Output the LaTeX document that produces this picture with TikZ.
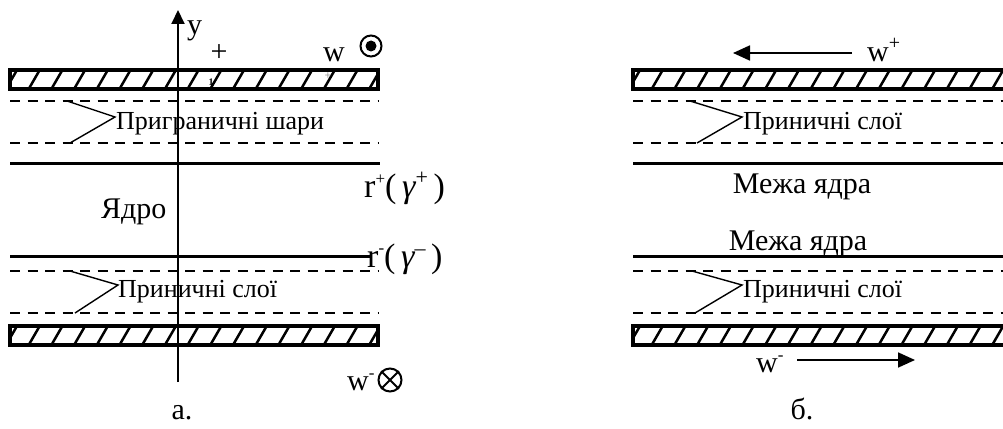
\documentclass[tikz,border=0pt]{standalone}
\usepackage{fontspec}
\setmainfont{Liberation Serif}
\usetikzlibrary{arrows.meta}
\newcommand{\hatchedbar}[3]{%
  \begin{scope}
    \clip (#1,#3) rectangle (#2,#3+19);
    \foreach \k in {0,...,20} {\draw[hatchline] ({#1-4+\k*22.7},#3+19) -- ++(11,-19);}
  \end{scope}
  \draw[barframe] (#1,#3) rectangle (#2,#3+19);
}
\begin{document}
\begin{tikzpicture}[x=1pt,y=-1pt,
  barframe/.style={line width=3.5pt},
  hatchline/.style={line width=2.5pt},
  dashline/.style={line width=2.2pt, dash pattern=on 10pt off 7.5pt},
  solidline/.style={line width=3pt},
  leader/.style={line width=1.4pt},
  big/.style={font=\fontsize{30}{34}\selectfont, inner sep=0pt},
  rlab/.style={font=\fontsize{34}{38}\selectfont, inner sep=0pt},
  small/.style={font=\fontsize{26}{30}\selectfont, inner sep=0pt},
  tiny/.style={font=\fontsize{12}{14}\selectfont, inner sep=0pt},
  symb/.style={circle, draw, line width=2pt, minimum size=21pt, inner sep=0pt},
  arr/.style={line width=1.8pt, -{Triangle[length=17pt,width=15pt]}},
]
\useasboundingbox (0,0) rectangle (1003,428);
\clip (0,0) rectangle (1003,428);

% ---------- panel a ----------
\hatchedbar{10}{378}{70}
\hatchedbar{10}{378}{326}
\draw[dashline] (10,101) -- (378,101);
\draw[dashline] (10,143) -- (378,143);
\draw[dashline] (10,271) -- (378,271);
\draw[dashline] (10,313) -- (378,313);
\draw[solidline] (10,163) -- (380,163);
\draw[solidline] (10,256) -- (372,256);

\coordinate (axb) at (178,382);
\coordinate (axt) at (178,10);
\draw[line width=2pt, -{Triangle[length=14pt,width=13pt]}] (axb) -- (axt);

\node[big, anchor=base west] (ylab) at (187,35) {y};
\node[big] (plus) at (219,53) {+};
\node[big, anchor=base west] (wplus) at (323,62) {w};
\node[symb] (odot) at (371,46) {};
\fill (odot.center) circle (5.5pt);
\node[tiny, text=gray] (sp) at (328,76) {+};
\node[tiny, font=\fontsize{10}{12}\selectfont\bfseries] (one) at (211,82) {1};

\node[big, anchor=base west] (core) at (101,218) {Ядро};

\node[small, anchor=base west] (lab1) at (116,129) {Приграничні шари};
\coordinate (a1) at (115,117);
\coordinate (a1u) at (67,101);
\coordinate (a1d) at (70,143);
\draw[leader] (a1u) -- (a1) -- (a1d);

\node[small, anchor=base west] (lab2) at (118,297) {Приничні слої};
\coordinate (a2) at (118,285);
\coordinate (a2u) at (70,271);
\coordinate (a2d) at (75,313);
\draw[leader] (a2u) -- (a2) -- (a2d);

\node[rlab, anchor=base west] (rp) at (364,197)
  {r\raisebox{13pt}{\fontsize{17}{17}\selectfont +}(\,{\itshape γ}\raisebox{13pt}{\fontsize{22}{22}\selectfont +}\,)};
\node[rlab, anchor=base west] (rm) at (367,267)
  {r\raisebox{14pt}{\fontsize{17}{17}\selectfont -}(\,{\itshape γ}\raisebox{12pt}{\fontsize{22}{22}\selectfont –}\,)};

\node[big, anchor=base west] (wm) at (347,390) {w\raisebox{12pt}{\fontsize{17}{17}\selectfont -}};
\node[symb, minimum size=23pt] (otimes) at (390,380) {};
\draw[line width=2pt] (otimes.north west) -- (otimes.south east)
  (otimes.north east) -- (otimes.south west);

\node[big, anchor=base] (capa) at (182,419) {а.};

% ---------- panel b ----------
\hatchedbar{633}{1020}{70}
\hatchedbar{633}{1020}{326}
\draw[dashline] (633,101) -- (1003,101);
\draw[dashline] (633,143) -- (1003,143);
\draw[dashline] (633,271) -- (1003,271);
\draw[dashline] (633,313) -- (1003,313);
\draw[solidline] (633,163) -- (1003,163);
\draw[solidline] (633,256) -- (1003,256);

\node[big, anchor=base west] (wp2) at (867,62) {w\raisebox{12pt}{\fontsize{20}{20}\selectfont +}};
\coordinate (ar1s) at (852,53);
\coordinate (ar1e) at (733,53);
\draw[arr] (ar1s) -- (ar1e);

\node[big, anchor=base west] (wm2) at (756,372) {w\raisebox{12pt}{\fontsize{17}{17}\selectfont -}};
\coordinate (ar2s) at (797,360);
\coordinate (ar2e) at (915,360);
\draw[arr] (ar2s) -- (ar2e);

\node[small, anchor=base west] (lab3) at (743,129) {Приничні слої};
\coordinate (b1) at (742,117);
\coordinate (b1u) at (690,101);
\coordinate (b1d) at (697,143);
\draw[leader] (b1u) -- (b1) -- (b1d);

\node[small, anchor=base west] (lab4) at (743,297) {Приничні слої};
\coordinate (b2) at (742,285);
\coordinate (b2u) at (692,271);
\coordinate (b2d) at (695,313);
\draw[leader] (b2u) -- (b2) -- (b2d);

\node[big, anchor=base] (mz1) at (802,193) {Межа ядра};
\node[big, anchor=base] (mz2) at (798,250) {Межа ядра};

\node[big, anchor=base] (capb) at (802,419) {б.};
\end{tikzpicture}
\end{document}
